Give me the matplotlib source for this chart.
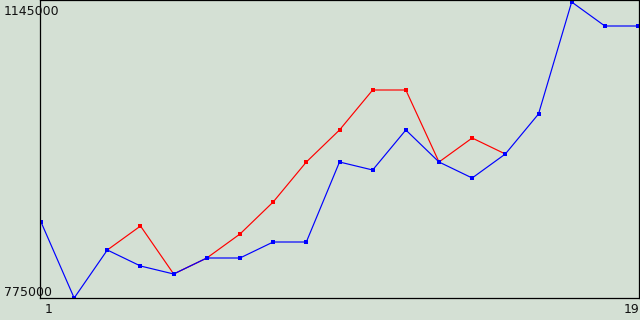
import matplotlib

matplotlib.use("Agg")
import matplotlib.pyplot as plt
from matplotlib.transforms import offset_copy

# values
x_blue = list(range(1, 20))
blue = [870000, 775000, 835000, 815000, 805000, 825000, 825000, 845000, 845000,
        945000, 935000, 985000, 945000, 925000, 955000, 1005000, 1145000,
        1115000, 1115000]
x_red = list(range(3, 16))
red = [835000, 865000, 805000, 825000, 855000, 895000, 945000, 985000,
       1035000, 1035000, 945000, 975000, 955000]
y_min, y_max = 775000, 1145000
x_first, x_last = 1, 19

BG = "#d4e0d4"

fig = plt.figure(figsize=(6.4, 3.2), dpi=100, facecolor=BG)
ax = fig.add_axes([40 / 640, 22 / 320, 599 / 640, 298 / 320], facecolor=BG)

ax.plot(x_red, red, color="#ff0000", linewidth=0.85, marker="s",
        markersize=2.6, markeredgewidth=0)
ax.plot(x_blue, blue, color="#0000ff", linewidth=0.85, marker="s",
        markersize=2.6, markeredgewidth=0)

ax.set_xlim(0.97, 19.03)
ax.set_ylim(y_min, y_min + (y_max - y_min) * 298 / 296)
ax.set_xticks([])
ax.set_yticks([])
for spine in ax.spines.values():
    spine.set_linewidth(0.9)
    spine.set_color("black")

font = dict(family="DejaVu Sans", fontsize=9, color="#111111")
ytrans = ax.get_yaxis_transform()
ax.text(-36 / 599, y_max, str(y_max), transform=offset_copy(ytrans, fig, y=-3, units="dots"),
        ha="left", va="top", clip_on=False, **font)
ax.text(-36 / 599, y_min, str(y_min), transform=offset_copy(ytrans, fig, y=-1, units="dots"),
        ha="left", va="bottom", clip_on=False, **font)
xtrans = ax.get_xaxis_transform()
ax.text(x_first, 0, str(x_first), transform=offset_copy(xtrans, fig, x=4, y=-5, units="dots"),
        ha="left", va="top", clip_on=False, **font)
ax.text(x_last, 0, str(x_last), transform=offset_copy(xtrans, fig, x=1, y=-5, units="dots"),
        ha="right", va="top", clip_on=False, **font)

fig.savefig("out.png", dpi=100, facecolor=BG)
